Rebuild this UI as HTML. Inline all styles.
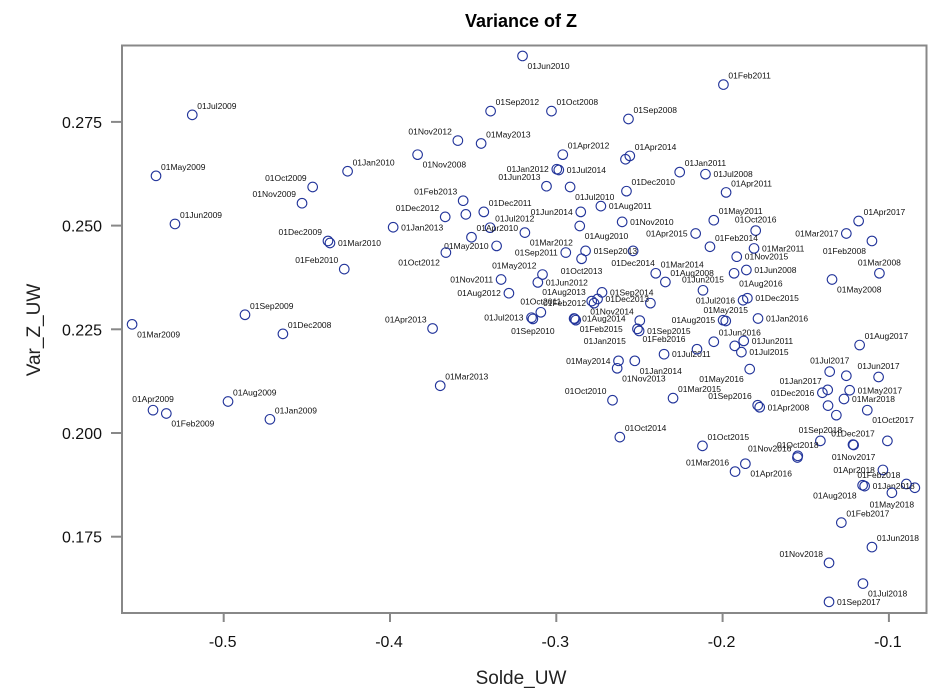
<!DOCTYPE html>
<html><head><meta charset="utf-8"><style>
body{margin:0;background:#fff;}
svg{display:block;font-family:"Liberation Sans",sans-serif;}
</style></head><body>
<svg id="chart" width="937" height="700" viewBox="0 0 937 700">
<rect width="937" height="700" fill="#fff"/>
<text x="521" y="27" font-size="18" font-weight="bold" text-anchor="middle">Variance of Z</text>
<text x="521" y="684" font-size="19" text-anchor="middle" fill="#222">Solde_UW</text>
<text x="40" y="330" font-size="19" text-anchor="middle" fill="#222" transform="rotate(-90 40 330)">Var_Z_UW</text>
<g id="axes"></g>
<g id="marks"></g>
<rect x="122" y="45.5" width="804.5" height="567.5" fill="none" stroke="#888" stroke-width="2"/>
</svg>
<script>
const labels=["01Jul2009","01May2009","01Oct2009","01Nov2009","01Jan2010","01Jun2009","01Dec2009","01Mar2010","01Feb2010","01Sep2009","01Mar2009","01Dec2008","01Apr2009","01Feb2009","01Aug2009","01Jan2009","01Jun2010","01Sep2012","01Oct2008","01Sep2008","01Nov2012","01May2013","01Nov2008","01Apr2012","01Apr2014","","01Jan2012","01Jul2014","01Jun2013","01Jul2010","01Dec2010","01Feb2013","01Dec2011","01Dec2012","","01Aug2011","01Jun2014","01Jul2012","01Apr2010","01Mar2012","01Nov2010","01Aug2010","01Jan2013","01May2010","01Oct2012","01Sep2011","01Oct2013","01Sep2013","01Dec2014","01Nov2011","01Jun2012","01May2012","01Aug2012","01Sep2014","01Dec2013","01Aug2013","01Feb2012","","01Nov2014","01Oct2011","01Jul2013","01Sep2010","01Aug2014","01Feb2015","01Jan2015","01Apr2013","01Mar2013","01May2014","01Oct2010","01Nov2013","01Jan2014","01Jul2011","01Aug2015","01May2015","01Sep2015","01Feb2016","01Jun2016","01Jun2011","01Jul2015","","","01Feb2011","01Jan2011","01Jul2008","01Apr2011","01May2011","01Oct2016","01Apr2015","01Mar2017","01Apr2017","01Feb2008","01Feb2014","01Mar2011","01Nov2015","01Mar2014","01Aug2008","01Jun2015","01Jun2008","01Aug2016","01Mar2008","01May2008","01Dec2015","01Jul2016","01Jan2016","01Aug2017","01May2016","01Jul2017","01Jun2017","","01Dec2016","01Jan2017","01May2017","01Mar2018","01Mar2015","01Sep2016","01Apr2008","","","01Oct2017","01Oct2014","01Oct2015","01Sep2018","01Dec2017","01Nov2017","","01Nov2016","01Oct2018","01Mar2016","01Apr2016","01Apr2018","01Feb2018","01Jan2018","01Aug2018","01May2018","","01Feb2017","01Jun2018","01Nov2018","01Jul2018","01Sep2017"];
const xVals=[-0.5189,-0.5407,-0.4465,-0.4529,-0.4255,-0.5293,-0.4373,-0.4361,-0.4275,-0.4872,-0.5551,-0.4644,-0.5425,-0.5345,-0.4974,-0.4722,-0.3203,-0.3395,-0.3029,-0.2566,-0.3592,-0.3452,-0.3834,-0.2961,-0.2558,-0.2584,-0.2997,-0.2985,-0.3059,-0.2917,-0.2578,-0.3560,-0.3436,-0.3668,-0.3544,-0.2732,-0.2853,-0.3398,-0.3510,-0.3189,-0.2604,-0.2859,-0.3981,-0.3359,-0.3664,-0.2943,-0.2848,-0.2824,-0.2538,-0.3332,-0.3111,-0.3083,-0.3285,-0.2725,-0.2752,-0.2787,-0.2773,-0.2434,-0.2498,-0.3093,-0.3149,-0.3141,-0.2893,-0.2889,-0.2883,-0.3744,-0.3698,-0.2626,-0.2662,-0.2634,-0.2528,-0.2352,-0.1997,-0.1981,-0.2502,-0.2512,-0.2053,-0.1873,-0.1887,-0.1927,-0.2154,-0.1995,-0.2258,-0.2103,-0.1979,-0.2053,-0.1801,-0.2162,-0.1256,-0.1182,-0.1102,-0.2076,-0.1811,-0.1915,-0.2402,-0.2344,-0.2118,-0.1857,-0.1931,-0.1057,-0.1342,-0.1851,-0.1877,-0.1787,-0.1176,-0.1837,-0.1356,-0.1062,-0.1256,-0.1400,-0.1368,-0.1236,-0.1270,-0.2298,-0.1789,-0.1777,-0.1366,-0.1316,-0.1130,-0.2618,-0.2121,-0.1412,-0.1216,-0.1212,-0.1009,-0.1550,-0.1548,-0.1925,-0.1863,-0.1036,-0.0895,-0.1146,-0.1158,-0.0982,-0.0844,-0.1286,-0.1102,-0.1360,-0.1156,-0.1360];
const yVals=[0.2767,0.2620,0.2593,0.2554,0.2631,0.2504,0.2463,0.2458,0.2395,0.2285,0.2262,0.2239,0.2055,0.2047,0.2076,0.2033,0.2909,0.2776,0.2776,0.2757,0.2705,0.2698,0.2671,0.2671,0.2668,0.2660,0.2636,0.2634,0.2595,0.2593,0.2583,0.2560,0.2533,0.2521,0.2527,0.2547,0.2533,0.2495,0.2472,0.2483,0.2509,0.2499,0.2496,0.2451,0.2435,0.2435,0.2420,0.2439,0.2439,0.2370,0.2363,0.2382,0.2337,0.2339,0.2323,0.2318,0.2313,0.2313,0.2271,0.2291,0.2278,0.2275,0.2276,0.2275,0.2272,0.2252,0.2114,0.2174,0.2079,0.2156,0.2174,0.2190,0.2272,0.2270,0.2246,0.2251,0.2220,0.2222,0.2195,0.2210,0.2202,0.2840,0.2629,0.2624,0.2580,0.2513,0.2488,0.2481,0.2481,0.2511,0.2463,0.2449,0.2445,0.2425,0.2385,0.2364,0.2344,0.2393,0.2385,0.2385,0.2370,0.2325,0.2320,0.2276,0.2212,0.2154,0.2148,0.2135,0.2138,0.2097,0.2104,0.2103,0.2082,0.2084,0.2067,0.2062,0.2066,0.2043,0.2055,0.1990,0.1969,0.1981,0.1972,0.1971,0.1981,0.1941,0.1945,0.1907,0.1926,0.1911,0.1877,0.1872,0.1874,0.1856,0.1868,0.1784,0.1725,0.1687,0.1637,0.1593];
const labelPos=["ne","ne","nw","nw","ne","ne","nw","e","nw","ne","se","ne","n","se","ne","ne","se","ne","ne","ne","nw","ne","se","ne","ne","ne","w","e","nw","se","ne","nw","ne","nw","ne","e","w","ne","ne","se","e","se","e","w","sw","w","s","e","s","w","e","nw","w","e","e","nw","w","ne","nw","n","w","s","e","se","s2","nw","ne","w","nw","se","se","e","w","n","e","se","ne","e","e","ne","ne","ne","ne","e","ne","ne","n","w","w","ne","sw","ne","e","e","ne","ne","n","e","se","n","se","e","w","e","ne","sw","n","n","ne","w","nw","e","e","ne","nw","e","ne","ne","se","ne","ne","n","n","s","ne","nw","n","nw","se","w","nw","e","sw","s","ne","ne","ne","nw","se","e"];
const xTicks=[-0.5,-0.4,-0.3,-0.2,-0.1];
const xTickLabels=["-0.5","-0.4","-0.3","-0.2","-0.1"];
const yTicks=[0.175,0.2,0.225,0.25,0.275];
const yTickLabels=["0.175","0.200","0.225","0.250","0.275"];

const NS="http://www.w3.org/2000/svg";
function xScale(v){return 223.7+(v+0.5)*1663;}
function yScale(v){return 433-(v-0.2)*4148;}
const OFF={ne:["start",5,-6],nw:["end",-6,-6],se:["start",5,13],sw:["end",-6,13],e:["start",8,3],w:["end",-8,3],n:["middle",0,-8],s:["middle",0,15],s2:["start",8,24]};
const axes=document.getElementById('axes');
const marks=document.getElementById('marks');
function mk(tag,attrs,parent){const e=document.createElementNS(NS,tag);for(const k in attrs)e.setAttribute(k,attrs[k]);parent.appendChild(e);return e;}
xTicks.forEach((t,i)=>{
  const x=xScale(t);
  const l=mk('line',{x1:x,x2:x,y1:613,y2:622,stroke:'#888','stroke-width':2},axes);
  
  
  const tx=mk('text',{x:x-1,y:647,'font-size':16,'text-anchor':'middle',fill:'#111'},axes);
  tx.textContent=xTickLabels[i];
  
  
});
yTicks.forEach((t,i)=>{
  const y=yScale(t);
  const l=mk('line',{x1:111,x2:122,y1:y,y2:y,stroke:'#888','stroke-width':2},axes);
  
  
  const tx=mk('text',{x:102,y:y+6,'font-size':16,'text-anchor':'end',fill:'#111'},axes);
  tx.textContent=yTickLabels[i];
  
  
});
xVals.forEach((xv,i)=>{
  const cx=xScale(xv), cy=yScale(yVals[i]);
  const c=mk('circle',{cx:cx,cy:cy,r:4.8,fill:'none',stroke:'#22349a','stroke-width':1.1},marks);
  
  
  if(labels[i]){
    const o=OFF[labelPos[i]];
    const t=mk('text',{x:cx+o[1],y:cy+o[2],'font-size':8.5,'text-anchor':o[0],fill:'#111'},marks);
    t.textContent=labels[i];
    
    
  }
});
</script>
</body></html>
